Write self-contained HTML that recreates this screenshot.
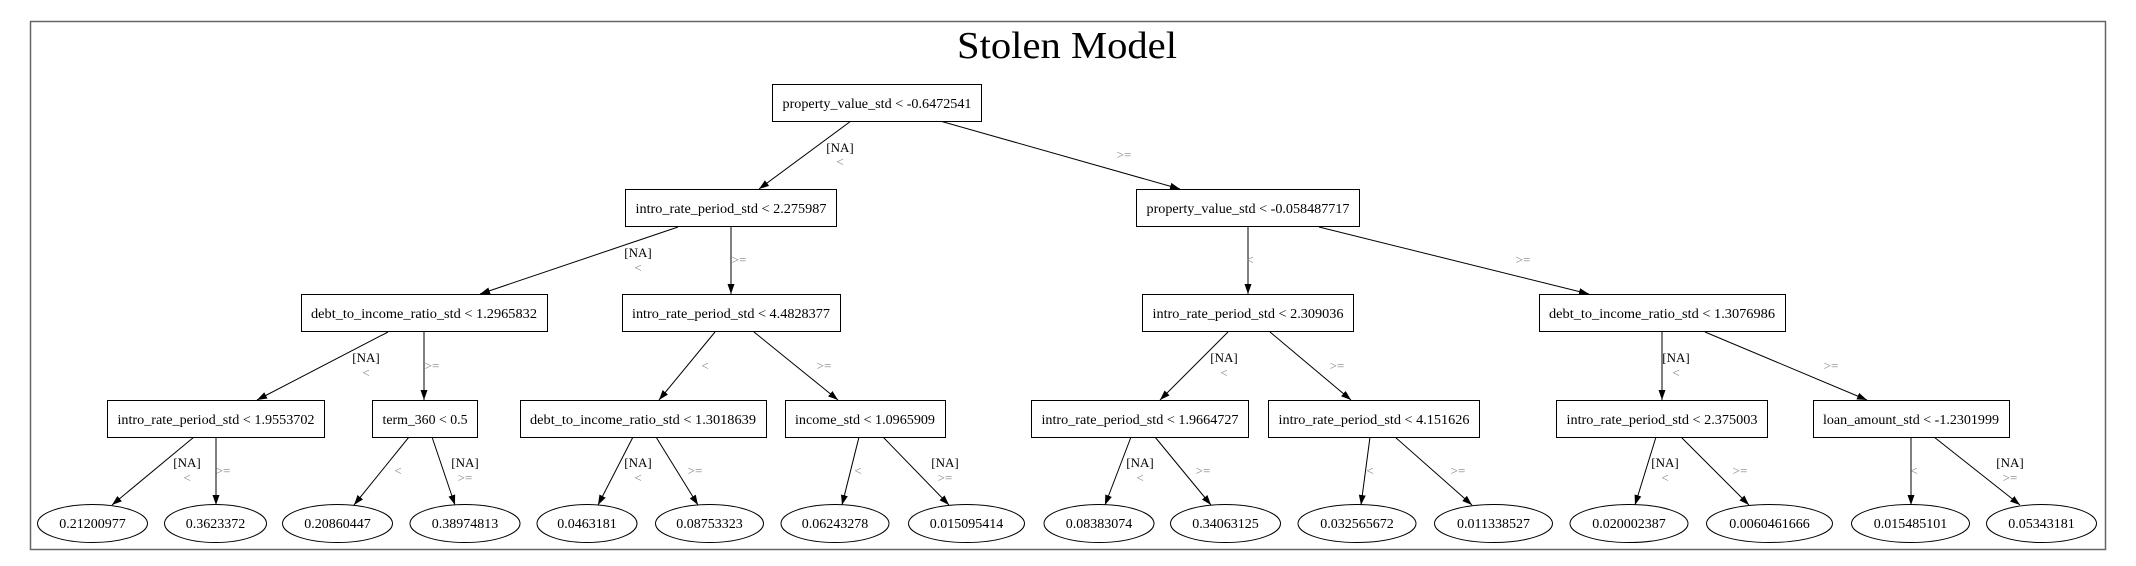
<!DOCTYPE html>
<html><head><meta charset="utf-8"><style>
html,body{margin:0;padding:0;background:#fff;}
svg{display:block;}
text{font-family:"Liberation Serif",serif;}
.n{font-size:14px;fill:#000;text-anchor:middle;}
.g{font-size:13px;fill:#808080;text-anchor:middle;}
.k{font-size:13px;fill:#000;text-anchor:middle;}
rect,ellipse{fill:#fff;stroke:#000;stroke-width:1;}
line{stroke:#000;stroke-width:1;}
</style></head><body>
<svg width="2136" height="566" viewBox="0 0 2136 566" xmlns="http://www.w3.org/2000/svg">
<defs><marker id="a" viewBox="0 0 10 10" refX="10" refY="5" markerWidth="10" markerHeight="10" markerUnits="userSpaceOnUse" orient="auto"><path d="M0,1.5 L10,5 L0,8.5 z" fill="#000"/></marker></defs>
<rect x="30.5" y="21.5" width="2075" height="528" style="stroke:#666;stroke-width:1.5"/>
<text x="1067" y="58" style="font-size:38px;text-anchor:middle" textLength="220" lengthAdjust="spacingAndGlyphs">Stolen Model</text>

<!-- edges -->
<g marker-end="url(#a)">
<line x1="851" y1="121" x2="759" y2="189"/>
<line x1="940" y1="121" x2="1180" y2="189"/>
<line x1="678" y1="227" x2="480" y2="294"/>
<line x1="731" y1="227" x2="731" y2="294"/>
<line x1="1248" y1="227" x2="1248" y2="294"/>
<line x1="1319" y1="227" x2="1589" y2="294"/>
<line x1="388" y1="332" x2="257" y2="400"/>
<line x1="424" y1="332" x2="424" y2="400"/>
<line x1="715" y1="332" x2="659" y2="400"/>
<line x1="754" y1="332" x2="838" y2="400"/>
<line x1="1228" y1="332" x2="1160" y2="400"/>
<line x1="1270" y1="332" x2="1351" y2="400"/>
<line x1="1662" y1="332" x2="1662" y2="400"/>
<line x1="1705" y1="332" x2="1867" y2="400"/>
<line x1="194" y1="437" x2="112" y2="505"/>
<line x1="216" y1="437" x2="216" y2="505"/>
<line x1="409" y1="437" x2="354" y2="505"/>
<line x1="432" y1="437" x2="455" y2="505"/>
<line x1="633" y1="437" x2="598" y2="505"/>
<line x1="656" y1="437" x2="698" y2="505"/>
<line x1="859" y1="437" x2="842" y2="505"/>
<line x1="883" y1="437" x2="949" y2="505"/>
<line x1="1131" y1="437" x2="1105" y2="505"/>
<line x1="1155" y1="437" x2="1211" y2="505"/>
<line x1="1370" y1="437" x2="1361" y2="505"/>
<line x1="1395" y1="437" x2="1472" y2="505"/>
<line x1="1656" y1="437" x2="1635" y2="505"/>
<line x1="1681" y1="437" x2="1749" y2="505"/>
<line x1="1911" y1="437" x2="1911" y2="505"/>
<line x1="1934" y1="437" x2="2020" y2="505"/>
</g>

<!-- edge labels -->
<text class="k" x="840" y="152">[NA]</text><text class="g" x="840" y="166">&lt;</text>
<text class="g" x="1124" y="159">&gt;=</text>
<text class="k" x="638" y="257">[NA]</text><text class="g" x="638" y="272">&lt;</text>
<text class="g" x="739" y="264">&gt;=</text>
<text class="g" x="1250" y="264">&lt;</text>
<text class="g" x="1523" y="264">&gt;=</text>
<text class="k" x="366" y="362">[NA]</text><text class="g" x="366" y="377">&lt;</text>
<text class="g" x="432" y="370">&gt;=</text>
<text class="g" x="705" y="370">&lt;</text>
<text class="g" x="824" y="370">&gt;=</text>
<text class="k" x="1224" y="362">[NA]</text><text class="g" x="1224" y="377">&lt;</text>
<text class="g" x="1337" y="370">&gt;=</text>
<text class="k" x="1676" y="362">[NA]</text><text class="g" x="1676" y="377">&lt;</text>
<text class="g" x="1831" y="370">&gt;=</text>

<text class="k" x="187" y="467">[NA]</text><text class="g" x="187" y="482">&lt;</text>
<text class="g" x="223" y="475">&gt;=</text>
<text class="g" x="398" y="475">&lt;</text>
<text class="k" x="465" y="467">[NA]</text><text class="g" x="465" y="482">&gt;=</text>
<text class="k" x="638" y="467">[NA]</text><text class="g" x="638" y="482">&lt;</text>
<text class="g" x="695" y="475">&gt;=</text>
<text class="g" x="858" y="475">&lt;</text>
<text class="k" x="945" y="467">[NA]</text><text class="g" x="945" y="482">&gt;=</text>
<text class="k" x="1140" y="467">[NA]</text><text class="g" x="1140" y="482">&lt;</text>
<text class="g" x="1203" y="475">&gt;=</text>
<text class="g" x="1370" y="475">&lt;</text>
<text class="g" x="1458" y="475">&gt;=</text>
<text class="k" x="1665" y="467">[NA]</text><text class="g" x="1665" y="482">&lt;</text>
<text class="g" x="1740" y="475">&gt;=</text>
<text class="g" x="1914" y="475">&lt;</text>
<text class="k" x="2010" y="467">[NA]</text><text class="g" x="2010" y="482">&gt;=</text>

<!-- boxes -->
<rect x="772.5" y="84.5" width="209" height="37"/><text class="n" x="877" y="108" textLength="189" lengthAdjust="spacingAndGlyphs">property_value_std &lt; -0.6472541</text>
<rect x="625.5" y="189.5" width="211" height="37"/><text class="n" x="731" y="213" textLength="191" lengthAdjust="spacingAndGlyphs">intro_rate_period_std &lt; 2.275987</text>
<rect x="1136.5" y="189.5" width="223" height="37"/><text class="n" x="1248" y="213" textLength="203" lengthAdjust="spacingAndGlyphs">property_value_std &lt; -0.058487717</text>
<rect x="301.5" y="294.5" width="246" height="37"/><text class="n" x="424" y="318" textLength="226" lengthAdjust="spacingAndGlyphs">debt_to_income_ratio_std &lt; 1.2965832</text>
<rect x="622.5" y="294.5" width="218" height="37"/><text class="n" x="731" y="318" textLength="198" lengthAdjust="spacingAndGlyphs">intro_rate_period_std &lt; 4.4828377</text>
<rect x="1142.5" y="294.5" width="211" height="37"/><text class="n" x="1248" y="318" textLength="191" lengthAdjust="spacingAndGlyphs">intro_rate_period_std &lt; 2.309036</text>
<rect x="1539.5" y="294.5" width="246" height="37"/><text class="n" x="1662" y="318" textLength="226" lengthAdjust="spacingAndGlyphs">debt_to_income_ratio_std &lt; 1.3076986</text>
<rect x="107.5" y="400.5" width="217" height="37"/><text class="n" x="216" y="424" textLength="197" lengthAdjust="spacingAndGlyphs">intro_rate_period_std &lt; 1.9553702</text>
<rect x="372.5" y="400.5" width="105" height="37"/><text class="n" x="425" y="424" textLength="85" lengthAdjust="spacingAndGlyphs">term_360 &lt; 0.5</text>
<rect x="520.5" y="400.5" width="246" height="37"/><text class="n" x="643" y="424" textLength="226" lengthAdjust="spacingAndGlyphs">debt_to_income_ratio_std &lt; 1.3018639</text>
<rect x="785.5" y="400.5" width="160" height="37"/><text class="n" x="865" y="424" textLength="140" lengthAdjust="spacingAndGlyphs">income_std &lt; 1.0965909</text>
<rect x="1031.5" y="400.5" width="217" height="37"/><text class="n" x="1140" y="424" textLength="197" lengthAdjust="spacingAndGlyphs">intro_rate_period_std &lt; 1.9664727</text>
<rect x="1268.5" y="400.5" width="211" height="37"/><text class="n" x="1374" y="424" textLength="191" lengthAdjust="spacingAndGlyphs">intro_rate_period_std &lt; 4.151626</text>
<rect x="1556.5" y="400.5" width="211" height="37"/><text class="n" x="1662" y="424" textLength="191" lengthAdjust="spacingAndGlyphs">intro_rate_period_std &lt; 2.375003</text>
<rect x="1813.5" y="400.5" width="196" height="37"/><text class="n" x="1911" y="424" textLength="176" lengthAdjust="spacingAndGlyphs">loan_amount_std &lt; -1.2301999</text>

<!-- leaves -->
<ellipse cx="92.5" cy="523.5" rx="55" ry="19"/><text class="n" x="92.5" y="528">0.21200977</text>
<ellipse cx="215.5" cy="523.5" rx="51" ry="19"/><text class="n" x="215.5" y="528">0.3623372</text>
<ellipse cx="337.5" cy="523.5" rx="55" ry="19"/><text class="n" x="337.5" y="528">0.20860447</text>
<ellipse cx="465" cy="523.5" rx="55" ry="19"/><text class="n" x="465" y="528">0.38974813</text>
<ellipse cx="587" cy="523.5" rx="50" ry="19"/><text class="n" x="587" y="528">0.0463181</text>
<ellipse cx="709.5" cy="523.5" rx="54" ry="19"/><text class="n" x="709.5" y="528">0.08753323</text>
<ellipse cx="835" cy="523.5" rx="54" ry="19"/><text class="n" x="835" y="528">0.06243278</text>
<ellipse cx="966.5" cy="523.5" rx="58" ry="19"/><text class="n" x="966.5" y="528">0.015095414</text>
<ellipse cx="1099" cy="523.5" rx="55" ry="19"/><text class="n" x="1099" y="528">0.08383074</text>
<ellipse cx="1225.5" cy="523.5" rx="55" ry="19"/><text class="n" x="1225.5" y="528">0.34063125</text>
<ellipse cx="1357" cy="523.5" rx="59" ry="19"/><text class="n" x="1357" y="528">0.032565672</text>
<ellipse cx="1493.5" cy="523.5" rx="59" ry="19"/><text class="n" x="1493.5" y="528">0.011338527</text>
<ellipse cx="1629" cy="523.5" rx="59" ry="19"/><text class="n" x="1629" y="528">0.020002387</text>
<ellipse cx="1769.5" cy="523.5" rx="63" ry="19"/><text class="n" x="1769.5" y="528">0.0060461666</text>
<ellipse cx="1910.5" cy="523.5" rx="59" ry="19"/><text class="n" x="1910.5" y="528">0.015485101</text>
<ellipse cx="2041.5" cy="523.5" rx="55" ry="19"/><text class="n" x="2041.5" y="528">0.05343181</text>
</svg>
</body></html>
